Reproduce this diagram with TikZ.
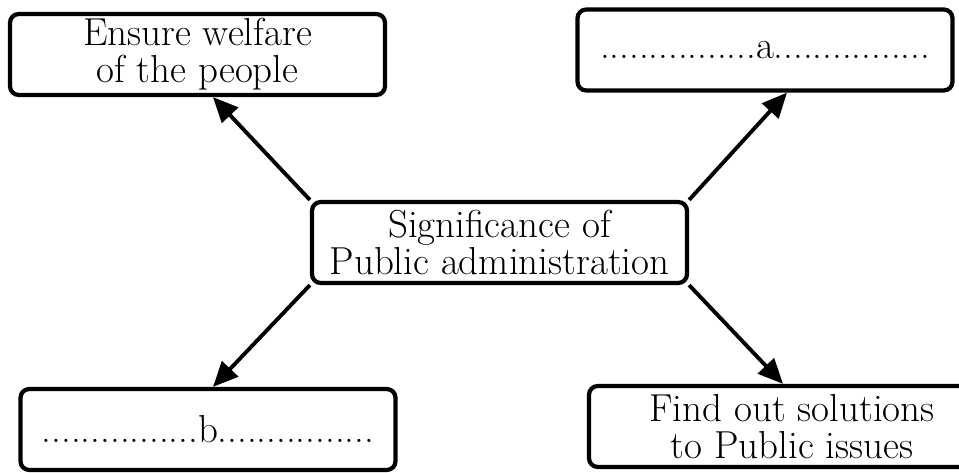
\documentclass[tikz,border=0pt]{standalone}
\usepackage{tikz}
\usetikzlibrary{
  positioning,
  calc,
  arrows.meta,
}
\tikzset{
  meta box/.style={
    draw,
    black,
    line width=2.4pt,
    text centered
  },
  punkt/.style={
    meta box,
    rectangle,
    rounded corners=5pt,
    inner sep=1.5pt,
    minimum height=1.62cm,
    minimum width=7.5cm,
    align=center
  },
  pfeil/.style={
    -{Triangle[length=0.5cm,width=0.44cm]},
    line width=2.2pt
  }
}

\begin{document}
\begin{tikzpicture}[font=\fontsize{22.2}{21}\selectfont]
  \useasboundingbox (0,0) rectangle (19.18,9.44);

  \node[punkt] (sig) at (9.99,4.59) {Significance of\\Public administration};

  \node[punkt] (welfare) at (3.95,8.35) {Ensure welfare\\of the people};
  \node[punkt] (a) at (15.3,8.44) {................a................};
  \node[punkt] (b) at (4.16,0.85) {................b................};
  \node[punkt, minimum width=8.12cm] (solve) at (15.84,0.91) {Find out solutions\\to Public issues};

  %% spokes
  \draw[pfeil] (sig.north west) -- ([xshift=0.31cm]welfare.south);
  \draw[pfeil] (sig.north east) -- ([xshift=0.44cm]a.south);
  \draw[pfeil] (sig.south west) -- ([xshift=0.1cm]b.north);
  \draw[pfeil] (sig.south east) -- ([xshift=-0.18cm]solve.north);
\end{tikzpicture}
\end{document}
